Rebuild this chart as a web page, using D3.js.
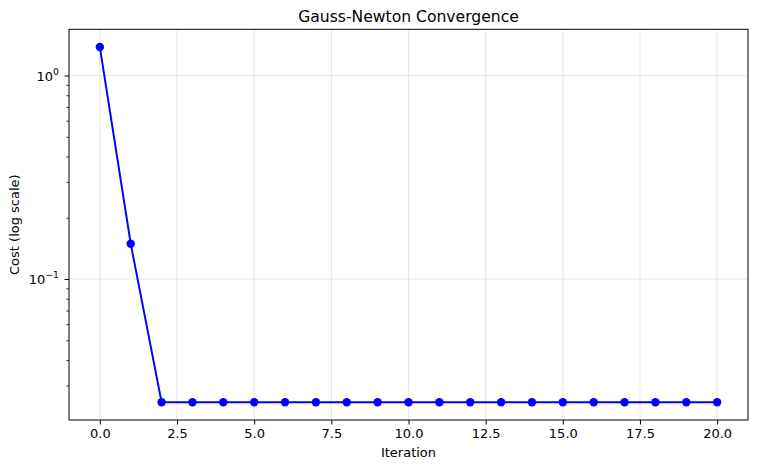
<!DOCTYPE html>
<html><head><meta charset="utf-8">
<script src="https://cdn.jsdelivr.net/npm/d3@7"></script>
<style>
body{margin:0;background:#fff;}
text{font-family:"DejaVu Sans",sans-serif;fill:#000;}
</style></head>
<body><svg id="c" width="758" height="470"></svg>
<script>
const iterations = d3.range(0, 21);
const costs = [1.38, 0.149, 0.0248, 0.0248, 0.0248, 0.0248, 0.0248, 0.0248, 0.0248, 0.0248,
  0.0248, 0.0248, 0.0248, 0.0248, 0.0248, 0.0248, 0.0248, 0.0248, 0.0248, 0.0248, 0.0248];
const xTicks = [0, 2.5, 5, 7.5, 10, 12.5, 15, 17.5, 20];
const yMajor = [1, 0.1];
const yMinor = [0.03,0.04,0.05,0.06,0.07,0.08,0.09,0.2,0.3,0.4,0.5,0.6,0.7,0.8,0.9];

const L = 69, R = 748, T = 29.3, B = 420;
const svg = d3.select("#c");
const x = d3.scaleLinear().domain([-1, 21]).range([L, R]);
const lmin = Math.log10(d3.min(costs)), lmax = Math.log10(d3.max(costs));
const pad = (lmax - lmin) * 0.05;
const y = d3.scaleLog().domain([Math.pow(10, lmin - pad), Math.pow(10, lmax + pad)]).range([B, T]);

// grid
const g = svg.append("g");
g.selectAll(".gx").data(xTicks).join("line")
  .attr("x1", d => x(d)).attr("x2", d => x(d)).attr("y1", T).attr("y2", B)
  .attr("stroke", "#b0b0b0").attr("stroke-opacity", 0.3).attr("stroke-width", 1);
g.selectAll(".gy").data(yMajor).join("line")
  .attr("x1", L).attr("x2", R).attr("y1", d => y(d)).attr("y2", d => y(d))
  .attr("stroke", "#b0b0b0").attr("stroke-opacity", 0.3).attr("stroke-width", 1);

// x axis
const xa = svg.append("g").attr("transform", `translate(0,${B})`)
  .call(d3.axisBottom(x).tickValues(xTicks).tickFormat(d3.format(".1f")).tickSize(4.5).tickPadding(4.2));
xa.select(".domain").remove();
xa.selectAll("text").attr("font-size", 13).attr("font-family", "DejaVu Sans").attr("fill", "#000");
xa.selectAll("line").attr("stroke", "#000").attr("stroke-width", 1);

// y axis
const ya = svg.append("g").attr("transform", `translate(${L},0)`)
  .call(d3.axisLeft(y).tickValues(yMajor).tickFormat("").tickSize(4.5));
ya.select(".domain").remove();
ya.selectAll("line").attr("stroke", "#000").attr("stroke-width", 1);
const ym = svg.append("g").attr("transform", `translate(${L},0)`)
  .call(d3.axisLeft(y).tickValues(yMinor).tickFormat("").tickSize(2.6));
ym.select(".domain").remove();
ym.selectAll("line").attr("stroke", "#000").attr("stroke-width", 0.75);

const yl = svg.append("g").selectAll("text").data(yMajor).join("text")
  .attr("text-anchor", "end").attr("font-size", 13)
  .attr("x", L - 10).attr("y", d => y(d) + 5);
yl.append("tspan").text("10");
yl.append("tspan").attr("font-size", 9.3).attr("dy", -5.8)
  .text(d => Math.round(Math.log10(d)) === 0 ? "0" : "\u2212" + Math.abs(Math.round(Math.log10(d))));

// line + markers
svg.append("path").datum(iterations)
  .attr("fill", "none").attr("stroke", "#0000ff").attr("stroke-width", 1.95)
  .attr("d", d3.line().x(i => x(i)).y(i => y(costs[i])));
svg.append("g").selectAll("circle").data(iterations).join("circle")
  .attr("cx", i => x(i)).attr("cy", i => y(costs[i])).attr("r", 4.2).attr("fill", "#0000ff");

// frame
svg.append("rect").attr("x", L).attr("y", T).attr("width", R - L).attr("height", B - T)
  .attr("fill", "none").attr("stroke", "#000").attr("stroke-width", 1);

// labels
svg.append("text").attr("x", (L + R) / 2).attr("y", 22).attr("text-anchor", "middle")
  .attr("font-size", 15.6).text("Gauss-Newton Convergence");
svg.append("text").attr("x", (L + R) / 2).attr("y", 457).attr("text-anchor", "middle")
  .attr("font-size", 13).text("Iteration");
svg.append("text").attr("transform", `translate(19,${(T + B) / 2}) rotate(-90)`)
  .attr("text-anchor", "middle").attr("font-size", 13).text("Cost (log scale)");
</script></body></html>
